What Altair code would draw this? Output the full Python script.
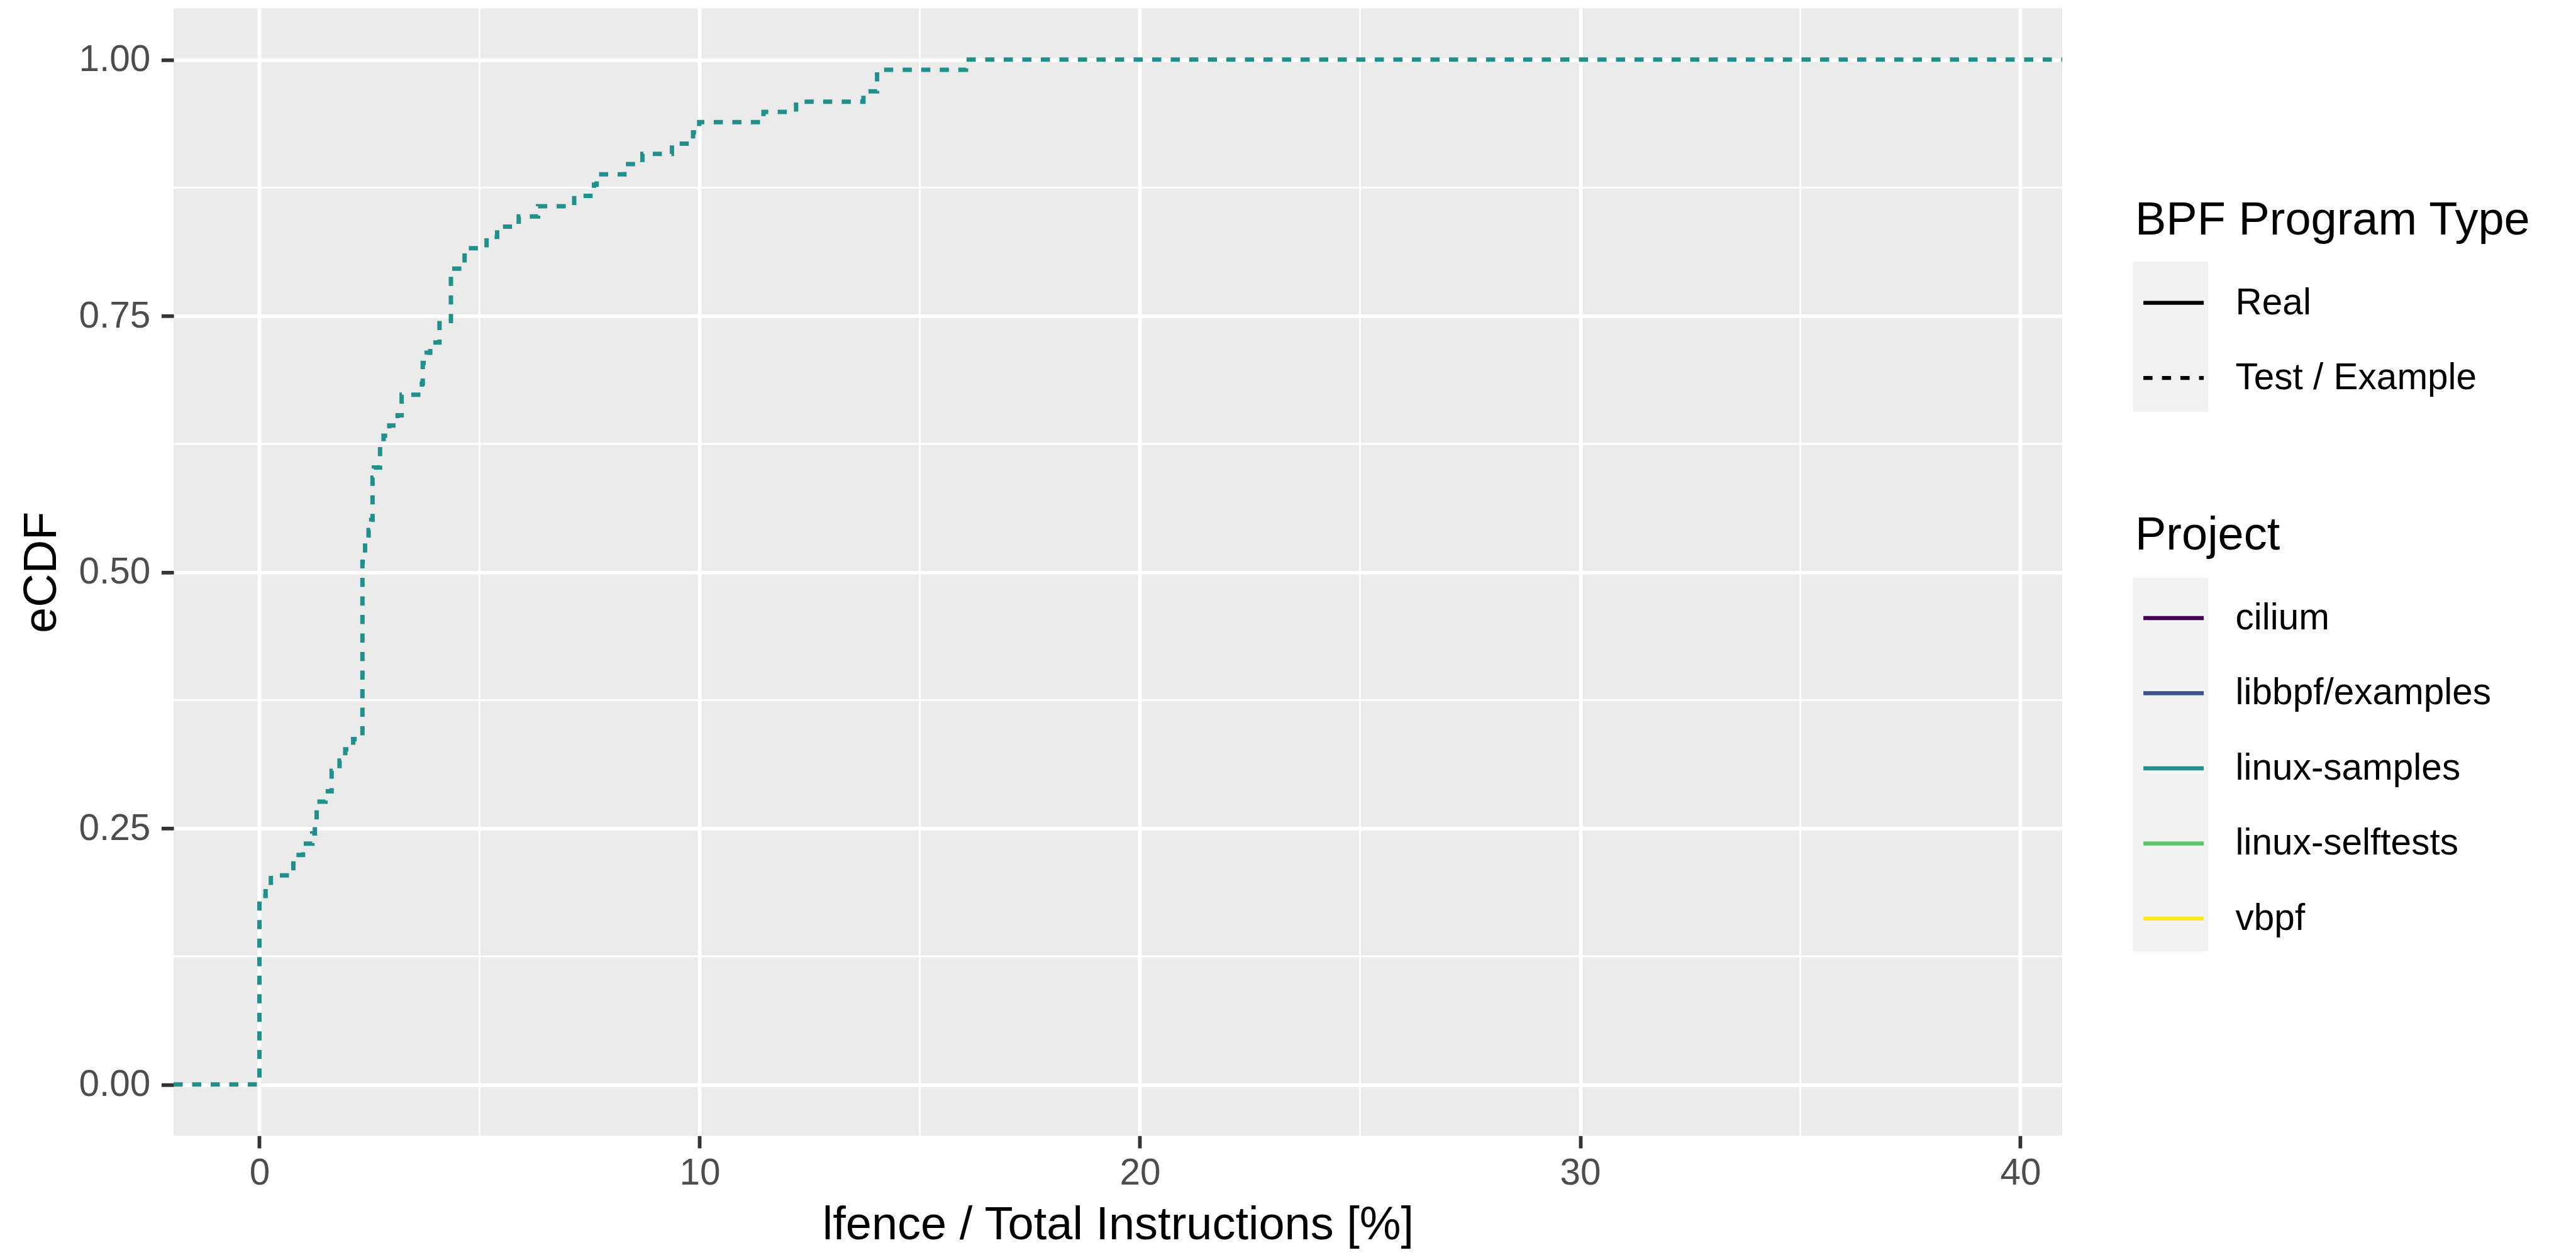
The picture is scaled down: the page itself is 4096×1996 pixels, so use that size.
import altair as alt
import pandas as pd

# ECDF steps (linux-samples, Test / Example)
ecdf_x = [-1.95, 0.0, 0.14, 0.26, 0.77, 0.99, 1.20, 1.26, 1.30, 1.50, 1.64, 1.82, 1.95, 2.13,
          2.34, 2.40, 2.48, 2.54, 2.57, 2.60, 2.74, 2.82, 2.95, 3.14, 3.23, 3.69, 3.71, 3.80,
          3.88, 4.09, 4.35, 4.66, 5.16, 5.40, 5.89, 6.33, 7.15, 7.60, 7.66, 8.29, 8.70, 9.37,
          9.85, 9.99, 11.45, 12.19, 13.72, 14.03, 16.05, 40.95]
ecdf_y = [0.0, 0.184, 0.194, 0.204, 0.224, 0.235, 0.245, 0.255, 0.276, 0.286, 0.306, 0.316,
          0.327, 0.337, 0.510, 0.531, 0.541, 0.551, 0.592, 0.602, 0.622, 0.633, 0.643, 0.653,
          0.673, 0.684, 0.704, 0.714, 0.724, 0.745, 0.796, 0.816, 0.827, 0.837, 0.847, 0.857,
          0.867, 0.878, 0.888, 0.898, 0.908, 0.918, 0.929, 0.939, 0.949, 0.959, 0.969, 0.990,
          1.0, 1.0]

projects = ["cilium", "libbpf/examples", "linux-samples", "linux-selftests", "vbpf"]
project_colors = ["#440154", "#3B528B", "#21908C", "#5DC863", "#FDE725"]
prog_types = ["Real", "Test / Example"]

x_ticks = [0, 10, 20, 30, 40]
y_ticks = [0.0, 0.25, 0.5, 0.75, 1.0]
x_minor = [5, 15, 25, 35]
y_minor = [0.125, 0.375, 0.625, 0.875]

x_domain = [-1.95, 40.95]
y_domain = [-0.05, 1.05]

FONT = "Liberation Sans"
W, H = 3003, 1793

df = pd.DataFrame({
    "x": ecdf_x,
    "y": ecdf_y,
    "Project": ["linux-samples"] * len(ecdf_x),
    "Type": ["Test / Example"] * len(ecdf_x),
})

xs = alt.Scale(domain=x_domain, nice=False, zero=False)
ys = alt.Scale(domain=y_domain, nice=False, zero=False)

minor_x = alt.Chart(pd.DataFrame({"v": x_minor})).mark_rule(
    color="white", strokeWidth=2.9
).encode(x=alt.X("v:Q", scale=xs))

minor_y = alt.Chart(pd.DataFrame({"v": y_minor})).mark_rule(
    color="white", strokeWidth=2.9
).encode(y=alt.Y("v:Q", scale=ys))

one = pd.DataFrame({"k": [0]})
key_bg1 = alt.Chart(one).mark_rect(fill="#F2F2F2").encode(
    x=alt.value(3115.5), x2=alt.value(3235.5), y=alt.value(402.7), y2=alt.value(641.7)
)
key_bg2 = alt.Chart(one).mark_rect(fill="#F2F2F2").encode(
    x=alt.value(3115.5), x2=alt.value(3235.5), y=alt.value(905.7), y2=alt.value(1499.7)
)

leg_common = dict(orient="none", symbolType="stroke", symbolSize=9216,
                  symbolStrokeWidth=6.4, symbolOffset=9.6, labelOffset=47,
                  rowPadding=38.5, titlePadding=41, padding=0,
                  labelLimit=3000, titleLimit=3000)

line = alt.Chart(df).mark_line(
    interpolate="step-after", strokeWidth=7.0, strokeCap="butt", clip=True
).encode(
    x=alt.X("x:Q", scale=xs,
            axis=alt.Axis(values=x_ticks, format="d", title="lfence / Total Instructions [%]",
                          labelPadding=11.7, titlePadding=17.8, labelFlush=False)),
    y=alt.Y("y:Q", scale=ys,
            axis=alt.Axis(values=y_ticks, format=".2f", title="eCDF",
                          labelPadding=17.6, titlePadding=20)),
    color=alt.Color("Project:N",
                    scale=alt.Scale(domain=projects, range=project_colors),
                    legend=alt.Legend(legendX=3119, legendY=803.2, title="Project",
                                      **leg_common)),
    strokeDash=alt.StrokeDash("Type:N",
                              scale=alt.Scale(domain=prog_types, range=[[1, 0], [14.5, 15]]),
                              legend=alt.Legend(legendX=3119, legendY=301.8,
                                                title="BPF Program Type",
                                                symbolStrokeColor="black", **leg_common)),
)

chart = alt.layer(key_bg1, key_bg2, minor_x, minor_y, line).resolve_scale(
    x="shared", y="shared"
).properties(
    width=W, height=H,
    autosize=alt.AutoSizeParams(type="none"),
    padding={"left": 268, "top": 5.3, "right": 809, "bottom": 181},
).configure_view(
    fill="#EBEBEB", stroke=None
).configure_axis(
    grid=True, gridColor="white", gridWidth=5.8, domain=False,
    tickColor="#333333", tickWidth=5.8, tickSize=19.6,
    labelFont=FONT, labelFontSize=58.5, labelColor="#4D4D4D",
    titleFont=FONT, titleFontSize=74, titleColor="black", titleFontWeight="normal",
).configure_legend(
    titleFont=FONT, titleFontSize=74, titleColor="black", titleFontWeight="normal",
    labelFont=FONT, labelFontSize=58.5, labelColor="black",
)

chart.save("out.html", embed_options={"renderer": "svg", "actions": False})
